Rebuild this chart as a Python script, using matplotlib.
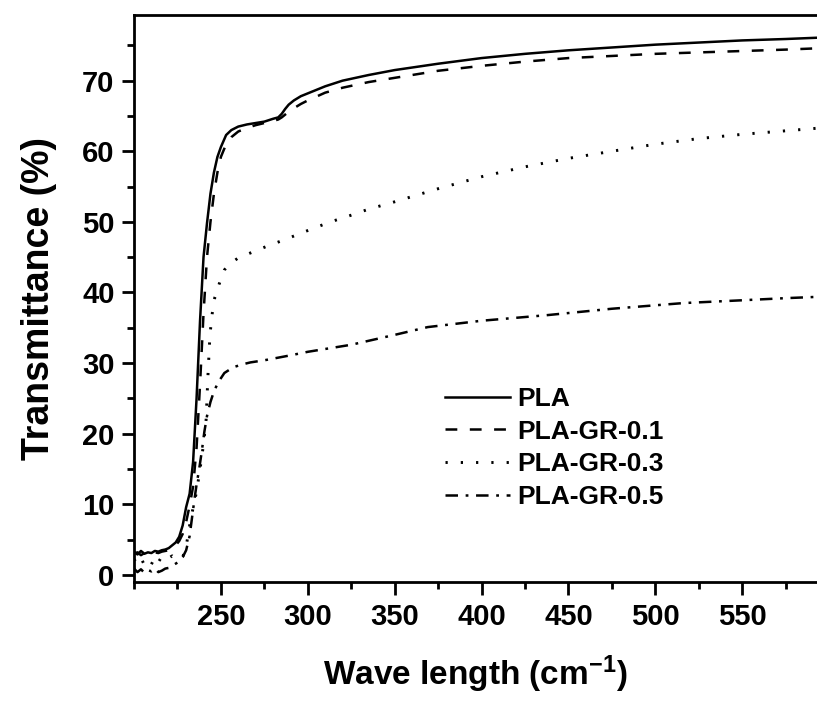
import matplotlib
matplotlib.use("Agg")
import matplotlib.pyplot as plt
from matplotlib.ticker import MultipleLocator

plt.rcParams['font.family'] = ['Liberation Sans', 'DejaVu Sans']
plt.rcParams['font.weight'] = 'bold'
plt.rcParams['mathtext.fontset'] = 'custom'
plt.rcParams['mathtext.rm'] = 'Liberation Sans:bold'
plt.rcParams['mathtext.bf'] = 'Liberation Sans:bold'
plt.rcParams['mathtext.it'] = 'Liberation Sans:bold'
plt.rcParams['lines.scale_dashes'] = False

# ---- data ----
x_pla = [200, 202, 204, 206, 208, 210, 212, 214, 216, 218, 220, 222, 224, 226, 228, 230, 232, 234, 236, 238,
         240, 242, 244, 246, 248, 250, 253, 256, 260, 265, 270, 275, 280, 283, 285, 287, 289, 292, 296, 300,
         310, 320, 335, 350, 375, 400, 425, 450, 475, 500, 525, 550, 575, 595]
y_pla = [3.3, 2.9, 3.4, 3.0, 3.2, 3.1, 3.4, 3.3, 3.5, 3.6, 3.8, 4.2, 4.6, 5.4, 7.0, 9.6, 11.5, 16.0, 25.0, 36.0,
         45.0, 49.8, 54.0, 57.0, 59.2, 60.6, 62.3, 63.0, 63.5, 63.8, 64.0, 64.2, 64.6, 64.8, 65.3, 66.0, 66.6, 67.2, 67.8, 68.2,
         69.2, 70.0, 70.8, 71.5, 72.4, 73.2, 73.8, 74.3, 74.7, 75.1, 75.4, 75.7, 75.9, 76.1]

x_gr01 = x_pla
y_gr01 = [3.0, 3.2, 2.8, 3.1, 2.9, 3.0, 3.2, 3.1, 3.3, 3.4, 3.5, 3.8, 4.2, 4.8, 5.8, 7.5, 9.8, 12.5, 18.0, 27.0,
          37.0, 45.0, 50.0, 54.0, 57.0, 59.2, 61.0, 62.0, 62.8, 63.3, 63.7, 64.0, 64.3, 64.5, 64.8, 65.2, 65.6, 66.1, 66.7, 67.2,
          68.3, 69.0, 69.8, 70.4, 71.4, 72.1, 72.7, 73.2, 73.5, 73.8, 74.0, 74.2, 74.4, 74.6]

x_gr03 = [200, 202, 204, 206, 208, 210, 212, 214, 216, 218, 220, 222, 224, 226, 228, 230, 232, 234, 236, 238,
          240, 241.5, 242.5, 243.7, 245, 246.5, 249, 252, 256, 260, 265, 270, 278, 287, 296, 313, 322, 335, 348,
          375, 400, 425, 450, 475, 500, 525, 550, 575, 595]
y_gr03 = [2.2, 1.6, 2.4, 1.4, 2.0, 1.5, 2.5, 1.8, 2.6, 2.2, 2.4, 2.7, 2.3, 2.6, 2.5, 4.0, 7.0, 9.5, 11.8, 15.0,
          18.5, 22.0, 28.0, 34.0, 37.0, 39.3, 41.2, 43.2, 44.2, 44.9, 45.4, 45.9, 46.7, 47.5, 48.4, 50.0, 50.7, 51.8, 52.7,
          54.7, 56.4, 57.8, 59.0, 60.0, 61.0, 61.8, 62.4, 62.9, 63.3]

x_gr05 = [200, 202, 204, 206, 208, 210, 212, 214, 216, 218, 220, 222, 224, 226, 228, 230, 232, 234.5, 236, 237.5,
          239, 240.5, 242, 244, 246, 248.5, 252, 257, 262, 267, 275, 290, 300, 325, 350, 369, 400, 438, 475, 516,
          550, 575, 595]
y_gr05 = [0.9, 0.4, 0.8, 0.3, 0.7, 0.5, 0.9, 0.4, 0.6, 0.9, 1.0, 1.3, 1.6, 1.9, 2.5, 3.5, 5.5, 10.2, 12.8, 15.0,
          17.5, 20.3, 22.5, 24.5, 26.0, 27.3, 28.6, 29.4, 29.8, 30.1, 30.4, 31.1, 31.6, 32.6, 34.0, 35.1, 36.0, 36.8, 37.7, 38.5,
          38.9, 39.2, 39.4]

labels = ['PLA', 'PLA-GR-0.1', 'PLA-GR-0.3', 'PLA-GR-0.5']
x_ticks = [250, 300, 350, 400, 450, 500, 550]
y_ticks = [0, 10, 20, 30, 40, 50, 60, 70]

# ---- figure ----
fig = plt.figure(figsize=(8.17, 7.03), dpi=100)
ax = fig.add_axes([134 / 817, 1 - 582 / 703, 1 - 134 / 817, (582 - 15) / 703])

lw = 1.8
ax.plot(x_pla, y_pla, color='black', lw=lw, linestyle='-', label=labels[0])
ax.plot(x_gr01, y_gr01, color='black', lw=lw, linestyle=(0, (8.5, 9.0)), label=labels[1])
ax.plot(x_gr03, y_gr03, color='black', lw=2.1, linestyle=(0, (1.6, 9.4)), label=labels[2])
ax.plot(x_gr05, y_gr05, color='black', lw=lw, linestyle=(0, (9.0, 5.5, 2.0, 5.5)), label=labels[3])

ax.set_xlim(200, 593)
ax.set_ylim(-1.0, 79.3)
ax.set_xticks(x_ticks)
ax.set_yticks(y_ticks)
ax.xaxis.set_minor_locator(MultipleLocator(25))
ax.yaxis.set_minor_locator(MultipleLocator(5))
ax.tick_params(which='major', direction='out', length=9, width=2, labelsize=21)
ax.tick_params(axis='x', which='major', pad=6)
ax.tick_params(axis='y', which='major', pad=5)
ax.tick_params(which='minor', direction='out', length=5, width=2)
for lab in ax.get_xticklabels() + ax.get_yticklabels():
    lab.set_fontweight('bold')

for side in ['left', 'bottom', 'top']:
    ax.spines[side].set_linewidth(2.0)
ax.spines['right'].set_visible(False)

ax.set_xlabel(r'Wave length (cm$^{\mathbf{-1}}$)', fontsize=24, fontweight='bold', labelpad=16)
ax.set_ylabel('Transmittance (%)', fontsize=27, fontweight='bold', labelpad=18)

leg = ax.legend(loc='upper left', bbox_to_anchor=(445 / 817, 1 - 387 / 703),
                bbox_transform=fig.transFigure, frameon=False,
                handlelength=2.45, handletextpad=0.27, labelspacing=0.33,
                borderpad=0, borderaxespad=0, prop={'weight': 'bold', 'size': 19})

fig.savefig('out.png', dpi=100)
